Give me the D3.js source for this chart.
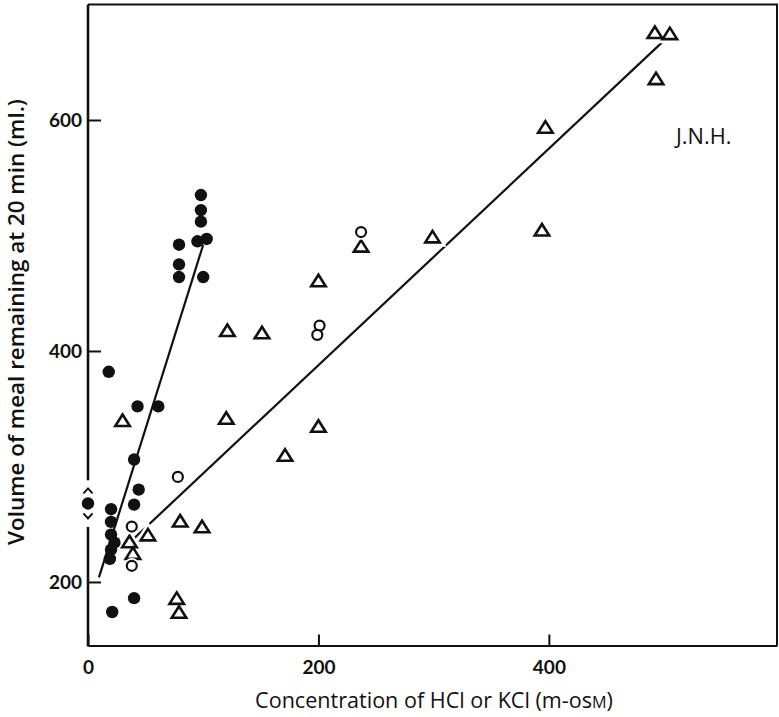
<!DOCTYPE html>
<html>
<head>
<meta charset="utf-8">
<script src="https://cdn.jsdelivr.net/npm/d3@7"></script>
<style>
  html, body { margin: 0; padding: 0; background: #fff; }
  svg { display: block; }
  text { fill: #111; }
</style>
</head>
<body>
<svg id="chart" width="779" height="717"></svg>
<script>
// Filled circles: HCl meals (concentration m-osM, volume ml.)
const hclX = [98, 98, 98, 95, 103, 79, 79, 79, 100, 18, 43, 61, 40, 0, 44, 40, 20, 20, 20, 23, 20, 19, 40, 21];
const hclY = [535, 522, 512, 495, 497, 492, 475, 464, 464, 382, 352, 352, 306, 268, 280, 267, 263, 252, 241, 234, 228, 220, 186, 174];

// Open triangles: KCl meals
const kclX = [30, 80, 99, 52, 36, 39, 77, 79, 121, 151, 120, 200, 171, 237, 299, 394, 200, 397, 492, 505, 493];
const kclY = [340, 253, 248, 241, 235, 225, 186, 174, 418, 416, 342, 335, 310, 491, 499, 505, 461, 594, 676, 675, 636];

// Open circles
const openX = [78, 38, 38, 201, 199, 237];
const openY = [291, 248, 214, 422, 414, 503];

// Fitted lines, end points [concentration, volume]
const hclFit = [[9.5, 204], [100, 492]];
const kclFit = [[28.5, 227], [498, 667]];

// Tick values
const xTicks = [0, 200, 400];
const yTicks = [200, 400, 600];

// Gap in the volume axis around the zero-concentration reading
const yBreak = [247.5, 288];

const svg = d3.select("#chart");
const FONT = "Lato, 'Open Sans', 'DejaVu Sans', sans-serif";
const TITLE_FONT = "'Open Sans', Lato, 'DejaVu Sans', sans-serif";

const x = d3.scaleLinear().domain([0, 598]).range([88, 777]);
const y = d3.scaleLinear().domain([145, 700]).range([645.5, 4.5]);

const [x0, x1] = x.range();
const [yb, yt] = y.range();

// Frame: top and right borders
svg.append("path")
  .attr("d", `M${x0},${yt} L${x1},${yt} L${x1},${yb}`)
  .attr("fill", "none").attr("stroke", "#111").attr("stroke-width", 2);

// Bottom axis
const xAxis = svg.append("g")
  .attr("transform", `translate(0,${yb})`)
  .call(d3.axisBottom(x).tickValues(xTicks).tickSize(-11).tickSizeOuter(0).tickPadding(15).tickFormat(d3.format("d")));
xAxis.select(".domain").attr("stroke", "#111").attr("stroke-width", 2.2);
xAxis.selectAll(".tick line").attr("stroke", "#111").attr("stroke-width", 2);
xAxis.selectAll(".tick text")
  .attr("font-family", FONT).attr("font-size", 19).attr("font-weight", 700).attr("fill", "#111");

// Left axis (drawn with a break)
const yAxis = svg.append("g")
  .attr("transform", `translate(${x0},0)`)
  .call(d3.axisLeft(y).tickValues(yTicks).tickSize(-13).tickSizeOuter(0).tickPadding(6).tickFormat(d3.format("d")));
yAxis.select(".domain").remove();
yAxis.selectAll(".tick line").attr("stroke", "#111").attr("stroke-width", 2);
yAxis.selectAll(".tick text")
  .attr("font-family", FONT).attr("font-size", 19).attr("font-weight", 700).attr("fill", "#111");

svg.append("path")
  .attr("d", `M${x0},${yt} L${x0},${y(yBreak[1])} M${x0},${y(yBreak[0])} L${x0},${yb + 1}`)
  .attr("fill", "none").attr("stroke", "#111").attr("stroke-width", 2.6);

// Chevrons around the zero-concentration point
const zeroIdx = hclX.indexOf(0);
const zy = y(hclY[zeroIdx]);
svg.append("path")
  .attr("d", `M${x(0) - 4.5},${zy - 10} L${x(0)},${zy - 15} L${x(0) + 4.5},${zy - 10}` +
             `M${x(0) - 4.5},${zy + 10} L${x(0)},${zy + 15} L${x(0) + 4.5},${zy + 10}`)
  .attr("fill", "none").attr("stroke", "#111").attr("stroke-width", 2);

// Fitted lines
const line = d3.line().x(d => x(d[0])).y(d => y(d[1]));
svg.append("path").datum(hclFit).attr("d", line)
  .attr("fill", "none").attr("stroke", "#111").attr("stroke-width", 2.2);
svg.append("path").datum(kclFit).attr("d", line)
  .attr("fill", "none").attr("stroke", "#111").attr("stroke-width", 2.2);

// Triangles (white halo cuts the fitted line where they sit on it)
const tri = (w, h) => `M${-w / 2},${h / 2} L${w / 2},${h / 2} L0,${-h / 2} Z`;
const kcl = kclX.map((v, i) => [v, kclY[i]]);
const triG = svg.append("g");
triG.selectAll("path.halo").data(kcl).join("path")
  .attr("class", "halo")
  .attr("d", tri(16, 13))
  .attr("transform", d => `translate(${x(d[0])},${y(d[1])})`)
  .attr("fill", "#fff").attr("stroke", "#fff").attr("stroke-width", 7);
triG.selectAll("path.mark").data(kcl).join("path")
  .attr("class", "mark")
  .attr("d", tri(14.5, 11.5))
  .attr("transform", d => `translate(${x(d[0])},${y(d[1])})`)
  .attr("fill", "#fff").attr("stroke", "#111").attr("stroke-width", 2.6)
  .attr("stroke-linejoin", "miter");

// Open circles
const open = openX.map((v, i) => [v, openY[i]]);
const openG = svg.append("g");
openG.selectAll("circle.halo").data(open).join("circle")
  .attr("class", "halo")
  .attr("cx", d => x(d[0])).attr("cy", d => y(d[1])).attr("r", 5.2)
  .attr("fill", "#fff").attr("stroke", "#fff").attr("stroke-width", 5);
openG.selectAll("circle.mark").data(open).join("circle")
  .attr("class", "mark")
  .attr("cx", d => x(d[0])).attr("cy", d => y(d[1])).attr("r", 5)
  .attr("fill", "#fff").attr("stroke", "#111").attr("stroke-width", 2.2);

// Filled circles
const hcl = hclX.map((v, i) => [v, hclY[i]]);
svg.append("g").selectAll("circle").data(hcl).join("circle")
  .attr("cx", d => x(d[0])).attr("cy", d => y(d[1])).attr("r", 6.2)
  .attr("fill", "#111");

// Scale a text element's font so it spans the given width
function fitWidth(sel, width) {
  const node = sel.node();
  const base = parseFloat(sel.attr("font-size"));
  const len = node.getComputedTextLength ? node.getBBox().width : 0;
  if (len > 0) sel.attr("font-size", (base * width / len).toFixed(2));
  return sel;
}

// Axis titles
const xt = svg.append("text")
  .attr("x", 434).attr("y", 708)
  .attr("text-anchor", "middle")
  .attr("font-family", TITLE_FONT).attr("font-size", 19).attr("font-weight", 400);
xt.append("tspan").text("Concentration of HCl or KCl (m-os");
xt.append("tspan").attr("font-size", "0.75em").text("M");
xt.append("tspan").text(")");
fitWidth(xt, 358);

const yTitle = svg.append("text")
  .attr("transform", `translate(24,322) rotate(-90)`)
  .attr("text-anchor", "middle")
  .attr("font-family", TITLE_FONT).attr("font-size", 19).attr("font-weight", 600)
  .text("Volume of meal remaining at 20 min (ml.)");
fitWidth(yTitle, 446);

// Subject initials
const initials = svg.append("text")
  .attr("x", 676).attr("y", 144)
  .attr("font-family", TITLE_FONT).attr("font-size", 17).attr("font-weight", 400)
  .text("J.N.H.");
fitWidth(initials, 58);
</script>
</body>
</html>
